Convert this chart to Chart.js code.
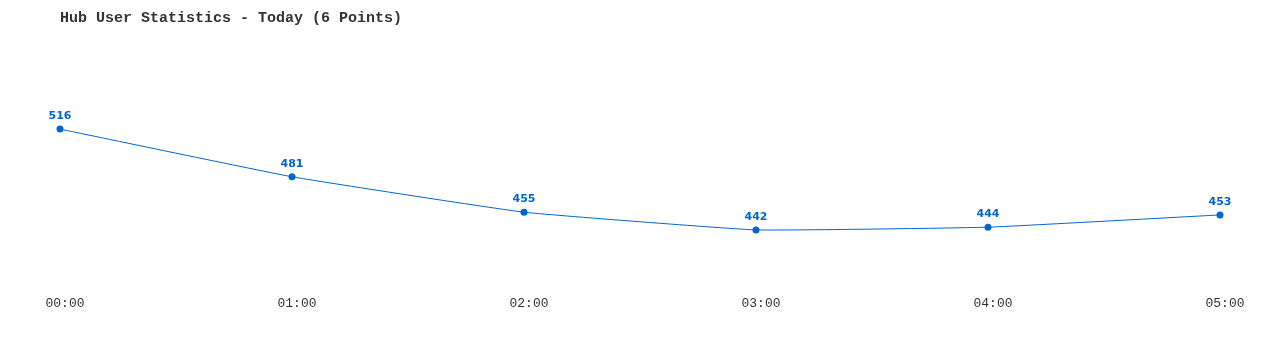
<!DOCTYPE html>
<html lang="en">
<head>
    <meta charset="UTF-8">
    <title>Hub User Statistics</title>
    <script src="https://cdn.jsdelivr.net/npm/chart.js"></script>
    <style>
        body { margin: 0; background: #fff; }
    </style>
</head>
<body>
    <canvas id="hubChart" width="1280" height="350"></canvas>

    <script>
        const hours = ['00:00', '01:00', '02:00', '03:00', '04:00', '05:00'];
        const users = [516, 481, 455, 442, 444, 453];
        const lineColor = '#0066cc';

        // draws the number above each point
        const pointLabels = {
            id: 'pointLabels',
            afterDatasetsDraw(chart) {
                const ctx = chart.ctx;
                const meta = chart.getDatasetMeta(0);
                ctx.save();
                ctx.font = 'bold 11px "DejaVu Sans", Verdana, sans-serif';
                ctx.fillStyle = lineColor;
                ctx.textAlign = 'center';
                ctx.textBaseline = 'middle';
                meta.data.forEach((pt, i) => {
                    ctx.fillText(String(users[i]), pt.x, pt.y - 13);
                });
                ctx.restore();
            }
        };

        const ctx = document.getElementById('hubChart').getContext('2d');
        const chart = new Chart(ctx, {
            type: 'line',
            data: {
                labels: hours,
                datasets: [{
                    label: 'Users',
                    data: users,
                    borderColor: lineColor,
                    backgroundColor: lineColor,
                    borderWidth: 1,
                    pointRadius: 3.5,
                    pointBorderWidth: 0,
                    tension: 0.1,
                    fill: false
                }]
            },
            options: {
                responsive: false,
                animation: false,
                events: [],
                layout: {
                    padding: { left: 60, right: 60, top: 0, bottom: 36 }
                },
                plugins: {
                    legend: { display: false },
                    tooltip: { enabled: false },
                    title: {
                        display: true,
                        text: 'Hub User Statistics - Today (6 Points)',
                        align: 'start',
                        color: '#333',
                        font: { family: '"Liberation Mono", "DejaVu Sans Mono", monospace', size: 15, weight: 'bold' },
                        padding: { top: 9, bottom: 10 }
                    }
                },
                scales: {
                    x: {
                        offset: false,
                        grid: { display: false },
                        border: { display: false },
                        ticks: {
                            color: '#333',
                            font: { family: '"Liberation Mono", "DejaVu Sans Mono", monospace', size: 13 },
                            maxRotation: 0,
                            labelOffset: 5
                        }
                    },
                    y: {
                        display: false,
                        min: 402,
                        max: 583.6
                    }
                }
            },
            plugins: [pointLabels]
        });
    </script>
</body>
</html>
